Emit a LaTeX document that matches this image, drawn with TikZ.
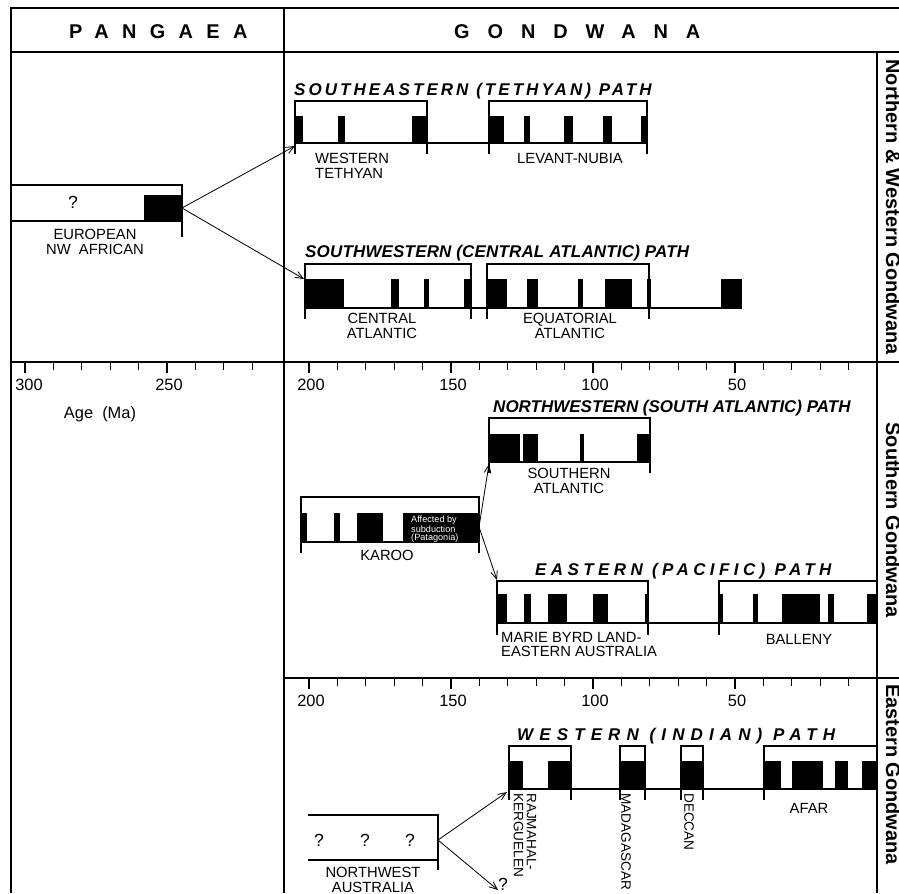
\documentclass[tikz,border=0pt]{standalone}
\usepackage{fontspec}
\setmainfont{Liberation Sans}
\usetikzlibrary{arrows.meta}
\newcommand\tracked[2]{{\addfontfeature{LetterSpace=#1}#2}}
\tikzset{
  frame/.style={line width=1.7pt},
  baseln/.style={line width=1.2pt},
  brk/.style={line width=0.9pt},
  tick/.style={line width=1.1pt},
  arr/.style={-{Straight Barb[length=2.4mm,width=2mm]}, line width=0.7pt},
  hdr/.style={inner sep=0pt, font=\fontsize{17}{20}\selectfont\bfseries},
  side/.style={inner sep=0pt, font=\fontsize{17}{20}\selectfont\bfseries},
  ttl/.style={inner sep=0pt, font=\fontsize{14.5}{17}\selectfont\bfseries\itshape},
  lab/.style={inner sep=0pt, font=\fontsize{12.6}{12.4}\selectfont, align=center},
  vlab/.style={inner sep=0pt, font=\fontsize{11.6}{11}\selectfont, rotate=-90, anchor=west, align=left},
  num/.style={inner sep=0pt, font=\fontsize{14}{16}\selectfont},
  qm/.style={inner sep=0pt, font=\fontsize{15}{17}\selectfont},
  tiny/.style={inner sep=0pt, font=\fontsize{7.8}{7}\selectfont, align=left, text=white},
}

\begin{document}
\begin{tikzpicture}[x=0.03cm, y=-0.03cm]
  \useasboundingbox (0,0) rectangle (899,893);

  % frame
  \draw[frame] (11,893) -- (11,8) -- (899,8);
  \draw[frame] (11,52) -- (899,52);
  \draw[frame] (284,8) -- (284,893);
  \draw[frame] (877,52) -- (877,893);
  \draw[frame] (11,362) -- (899,362);
  \draw[frame] (284,678) -- (899,678);

  \node[hdr, anchor=base west] (pangaea) at (69,38) {\tracked{67}{PANGAEA}};
  \node[hdr, anchor=base west] (gondwana) at (454,38) {\tracked{90}{GONDWANA}};

  \node[side, rotate=-90, anchor=base] (nwgond) at (886,207) {Northern \& Western Gondwana};
  \node[side, rotate=-90, anchor=base] (sgond) at (886,520) {Southern Gondwana};
  \node[side, rotate=-90, anchor=base west] (egond) at (886,684) {Eastern Gondwana};

  % age axes
  \foreach \t in {10,20,...,300} {
    \ifnum\t=210\else
      \draw[tick] ({877-2.84*\t},362) -- ++(0,8);
    \fi
  }
  \foreach \t in {10,20,...,200}
    \draw[tick] ({877-2.84*\t},678) -- ++(0,8);
  \foreach \t in {50,100,...,300}
    \draw[tick] ({877-2.84*\t},362) -- ++(0,11);
  \foreach \t in {50,100,...,200}
    \draw[tick] ({877-2.84*\t},678) -- ++(0,11);
  \foreach \t in {250,200,...,50}
    \node[num, anchor=north] (ageA\t) at ({879-2.84*\t},379) {\t};
  \node[num, anchor=north] (ageA300) at (29,379) {300};
  \foreach \t in {200,150,...,50}
    \node[num, anchor=north] (ageB\t) at ({879-2.84*\t},695) {\t};
  \node[num] (agelab) at (100,414) {Age\ \ (Ma)};

  % pangaea
  \draw[baseln] (11,185) -- (182,185) -- (182,237);
  \draw[baseln] (11,221) -- (182,221);
  \fill (144,195) rectangle (182,221);
  \node[qm] (eurq) at (73,202) {?};
  \node[lab, anchor=north] (eur) at (95,229) {EUROPEAN\\NW\ \ AFRICAN};
  \coordinate (eurR) at (182,208);

  % tethyan
  \node[ttl, anchor=base west] (seTitle) at (294,95) {\tracked{18}{SOUTHEASTERN (TETHYAN) PATH}};
  \foreach \a/\b in {295/303,338/345,412/427,489/504,524/530,564/573,603/612,641/647}
    \fill (\a,116) rectangle (\b,143);
  \draw[baseln] (295,143) -- (647,143);
  \draw[brk] (295,154) -- (295,101) -- (427,101) -- (427,154);
  \draw[brk] (489,154) -- (489,101) -- (647,101) -- (647,154);
  \node[lab, anchor=north west, align=left] (wtethys) at (315,153) {WESTERN\\TETHYAN};
  \node[lab, anchor=north] (levant) at (570,153) {LEVANT-NUBIA};
  \coordinate (wtIn) at (295,146);

  % central atlantic
  \node[ttl, anchor=base west] (swTitle) at (305,257) {\tracked{1}{SOUTHWESTERN (CENTRAL ATLANTIC) PATH}};
  \foreach \a/\b in {305/344,391/399,424/429,464/471,487/507,527/538,578/583,605/632,647/651,721/742}
    \fill (\a,279) rectangle (\b,308);
  \draw[baseln] (305,308) -- (742,308);
  \draw[brk] (305,319) -- (305,264) -- (471,264) -- (471,319);
  \draw[brk] (487,319) -- (487,264) -- (649,264) -- (649,319);
  \node[lab, anchor=north] (catl) at (382,313) {CENTRAL\\ATLANTIC};
  \node[lab, anchor=north] (eqatl) at (570,313) {EQUATORIAL\\ATLANTIC};
  \coordinate (caIn) at (304,279);

  \draw[arr] (eurR) -- (wtIn);
  \draw[arr] (eurR) -- (caIn);

  % south atlantic
  \node[ttl, anchor=base west] (nwTitle) at (493,412) {NORTHWESTERN (SOUTH ATLANTIC) PATH};
  \foreach \a/\b in {489/520,523/538,580/584,637/650}
    \fill (\a,434) rectangle (\b,462);
  \draw[baseln] (489,462) -- (650,462);
  \draw[brk] (489,473) -- (489,418) -- (650,418) -- (650,473);
  \node[lab, anchor=north] (satl) at (569,468) {SOUTHERN\\ATLANTIC};
  \coordinate (saIn) at (489,464);

  % karoo
  \foreach \a/\b in {301/307,334/340,357/383,403/479}
    \fill (\a,513) rectangle (\b,542);
  \draw[baseln] (301,542) -- (479,542);
  \draw[brk] (301,553) -- (301,497) -- (479,497) -- (479,553);
  \node[tiny, anchor=north west] (patag) at (411,516) {Affected by\\subduction\\(Patagonia)};
  \node[lab, anchor=north] (karoo) at (387,550) {KAROO};
  \coordinate (karR) at (479,527);

  % pacific
  \node[ttl, anchor=base west] (eTitle) at (535,575) {\tracked{26}{EASTERN (PACIFIC) PATH}};
  \foreach \a/\b in {497/507,524/531,548/567,593/608,645/648,719/723,753/758,782/820,828/834,867/877}
    \fill (\a,594) rectangle (\b,623);
  \draw[baseln] (497,623) -- (877,623);
  \draw[brk] (497,635) -- (497,581) -- (648,581) -- (648,635);
  \draw[brk] (719,635) -- (719,581) -- (877,581);
  \node[lab, anchor=north west, align=left] (mbl) at (501,632) {MARIE BYRD LAND-\\EASTERN AUSTRALIA};
  \node[lab, anchor=north] (balleny) at (799,634) {BALLENY};
  \coordinate (pacIn) at (497,580);

  \draw[arr] (karR) -- (saIn);
  \draw[arr] (karR) -- (pacIn);

  % indian
  \node[ttl, anchor=base west] (wTitle) at (517,740) {\tracked{36}{WESTERN (INDIAN) PATH}};
  \foreach \a/\b in {509/523,548/571,620/645,681/703,764/781,792/823,835/848,862/877}
    \fill (\a,761) rectangle (\b,789);
  \draw[baseln] (509,789) -- (877,789);
  \foreach \a/\b in {509/571,620/645,681/703}
    \draw[brk] (\a,800) -- (\a,746) -- (\b,746) -- (\b,800);
  \draw[brk] (764,800) -- (764,746) -- (877,746);
  \node[vlab] (rajm) at (525,793) {RAJMAHAL-\\KERGUELEN};
  \node[vlab] (madag) at (626,793) {MADAGASCAR};
  \node[vlab] (deccan) at (689,793) {DECCAN};
  \node[lab, anchor=north] (afar) at (809,803) {AFAR};

  \draw[baseln] (308,815) -- (438,815) -- (438,870);
  \draw[baseln] (308,860) -- (438,860);
  \foreach \x [count=\i] in {319,365,410}
    \node[qm] (nwq\i) at (\x,840) {?};
  \node[lab, anchor=north] (nwaus) at (373,867) {NORTHWEST\\AUSTRALIA};
  \coordinate (nwR) at (438,840);
  \coordinate (rajIn) at (507,792);
  \coordinate (lost) at (498,890);
  \node[qm] (lostq) at (503,884) {?};

  \draw[arr] (nwR) -- (rajIn);
  \draw[arr] (nwR) -- (lost);
\end{tikzpicture}
\end{document}
